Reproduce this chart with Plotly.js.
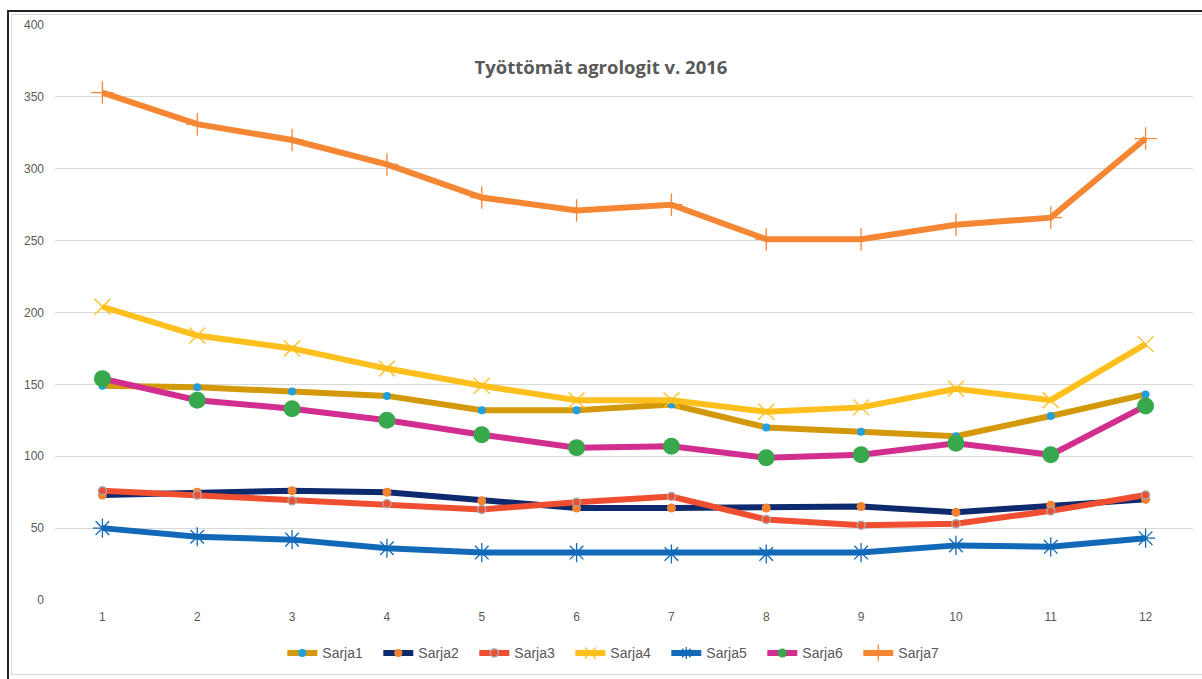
<!DOCTYPE html>
<html>
<head>
<meta charset="utf-8">
<script src="https://cdn.plot.ly/plotly-3.0.1.min.js"></script>
<style>
html,body{margin:0;padding:0;background:#fff;}
#wrap{position:relative;width:1202px;height:679px;overflow:hidden;}
#chart{position:absolute;left:0;top:0;width:1202px;height:679px;}
.bd{position:absolute;pointer-events:none;}
</style>
</head>
<body>
<div id="wrap">
<div id="chart"></div>
<div class="bd" style="left:7px;top:10px;width:1200px;height:2px;background:#222;"></div>
<div class="bd" style="left:7px;top:10px;width:2px;height:680px;background:#222;"></div>
<div class="bd" style="left:11px;top:14px;width:1200px;height:661px;border:1px solid #d9d9d9;box-sizing:border-box;border-right:none;"></div>
</div>
<script>
var categories = [1,2,3,4,5,6,7,8,9,10,11,12];
var seriesNames = ["Sarja1","Sarja2","Sarja3","Sarja4","Sarja5","Sarja6","Sarja7"];
var sarja1 = [149,148,145,142,132,132,136,120,117,114,128,143];
var sarja2 = [73,75,76,75,69,64,64,64,65,61,66,70];
var sarja3 = [76,73,69,67,63,68,72,56,52,53,62,73];
var sarja4 = [204,184,175,161,149,139,139,131,134,147,139,178];
var sarja5 = [50,44,42,36,33,33,32,32,33,38,37,43];
var sarja6 = [154,139,133,125,115,106,107,99,101,109,101,135];
var sarja7 = [353,331,320,303,280,271,275,251,251,261,266,321];
var yTicks = [0,50,100,150,200,250,300,350,400];

var values = [sarja1,sarja2,sarja3,sarja4,sarja5,sarja6,sarja7];
var lineColors = ["#D4990B","#0E2A6E","#F04E30","#FFC01E","#1169B8","#D12E8F","#F58634"];
var markerColors = ["#22A0DD","#F5822F","#F04E30","#FFC01E","#1169B8","#38A84C","#F58634"];
var symbols = ["circle","circle","circle","x-thin-open","asterisk-open","circle","cross-thin-open"];
var sizes = [8,9,8,16,16,17,16];
var legendSizes = [8,8,8,11,10,9,12];
function mk(i, size){
  var m = {symbol:symbols[i], size:size, color:markerColors[i], line:{width:0}};
  if (i===2) m.line = {width:1.5, color:"#A6A6A6"};
  if (symbols[i].indexOf("open")>=0) m.line = {width:1.3, color:markerColors[i]};
  return m;
}
var traces = values.map(function(v,i){
  return {x:categories, y:v, type:"scatter", mode:"lines+markers", name:seriesNames[i], showlegend:false,
    line:{color:lineColors[i], width:6}, marker:mk(i, sizes[i])};
});
// legend-only entries with small markers
seriesNames.forEach(function(n,i){
  traces.push({x:[null], y:[null], type:"scatter", mode:"lines+markers", name:n, showlegend:true,
    line:{color:lineColors[i], width:6}, marker:mk(i, legendSizes[i])});
});
var layout = {
  width:1202, height:679,
  margin:{l:55, r:9, t:25, b:79},
  paper_bgcolor:"rgba(0,0,0,0)", plot_bgcolor:"#fff",
  title:{text:"<b>Työttömät agrologit v. 2016</b>", x:0.5, xanchor:"center", y:0.9, yanchor:"middle",
    font:{family:"Open Sans, Liberation Sans, sans-serif", size:18.5, color:"#595959"}},
  xaxis:{range:[0.5,12.5], tickvals:categories, ticktext:categories.map(String), showgrid:false, zeroline:false,
    showline:false, ticks:"", ticklabelstandoff:8, tickfont:{family:"Liberation Sans, Arial, sans-serif", size:12, color:"#595959"}},
  yaxis:{range:[0,400], tickvals:yTicks, showgrid:true, gridcolor:"#D9D9D9", gridwidth:1, zeroline:false,
    ticks:"", tickfont:{family:"Liberation Sans, Arial, sans-serif", size:12, color:"#595959"}, ticklabelstandoff:10},
  legend:{orientation:"h", x:0.495, xanchor:"center", y:-0.065, yanchor:"top", entrywidth:51, entrywidthmode:"pixels",
    font:{family:"Liberation Sans, Arial, sans-serif", size:14, color:"#595959"}, itemwidth:30, tracegroupgap:0},
  showlegend:true
};
Plotly.newPlot("chart", traces, layout, {displayModeBar:false, staticPlot:true});
</script>
</body>
</html>
